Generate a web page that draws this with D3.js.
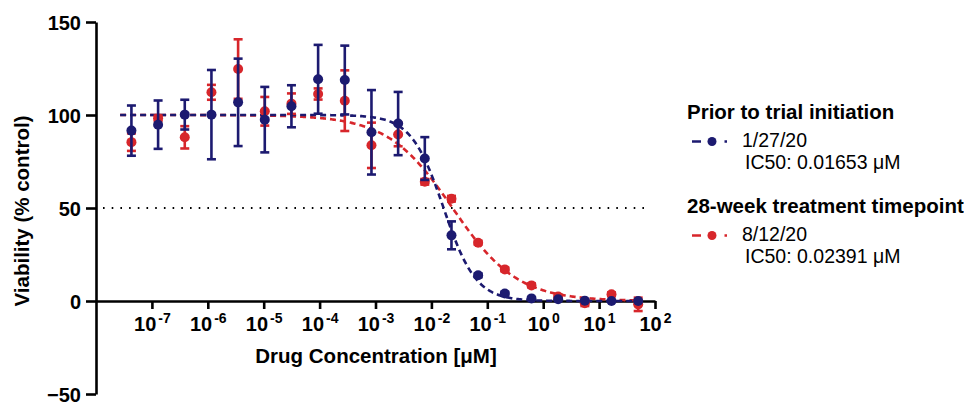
<!DOCTYPE html>
<html><head><meta charset="utf-8">
<script src="https://cdn.jsdelivr.net/npm/d3@7"></script>
<style>
body{margin:0;background:#fff;}
text{font-family:"Liberation Sans",Arial,sans-serif;}
</style></head>
<body><svg id="c" width="964" height="402"></svg>
<script>
// ---- data ----
const concentrations = d3.range(19, -1, -1).map(k => 50 / Math.pow(3, k)); // 3-fold dilution from 50 µM
const blueMean = [91.6, 94.8, 100.2, 100.2, 106.8, 97.5, 104.7, 119.2, 118.8, 90.7, 95.4, 76.6, 35.3, 13.8, 4.0, 1.4, 0.9, 0.2, 0.0, 0.0];
const blueErr  = [13.5, 13.0, 8.0, 24.0, 23.5, 17.6, 11.3, 18.5, 18.5, 22.7, 17.0, 11.5, 7.5, 1.0, 1.0, 0.5, 0.5, 0.5, 0.5, 0.5];
const redMean  = [85.4, 98.2, 88.0, 112.2, 124.7, 102.0, 106.1, 111.3, 107.7, 83.7, 89.5, 64.1, 55.0, 31.3, 17.0, 8.4, 2.4, -1.2, 3.6, -1.8];
const redErr   = [4.7, 1.5, 6.0, 4.0, 16.0, 7.7, 5.5, 3.0, 16.3, 12.2, 6.3, 1.5, 1.5, 1.0, 1.0, 1.0, 1.0, 1.5, 1.0, 3.6];
const ic50 = [0.01653, 0.02391];
const hill = [1.5, 0.75];
const seriesNames = ["Prior to trial initiation", "28-week treatment timepoint"];
const seriesDates = ["1/27/20", "8/12/20"];
const seriesIC50Labels = ["IC50: 0.01653 μM", "IC50: 0.02391 μM"];
const yTicks = [150, 100, 50, 0, -50];
const xTickExps = [-7, -6, -5, -4, -3, -2, -1, 0, 1, 2];

const colors = ["#1c1a70", "#d7262b"];

const svg = d3.select("#c");
const x = d3.scaleLog().domain([1e-8, 1e2]).range([96, 655]);
const y = d3.scaleLinear().domain([-50, 150]).range([394, 22]);

// y axis
const yAxis = svg.append("g").attr("transform", "translate(96,0)")
  .call(d3.axisLeft(y).tickValues(yTicks).tickSize(10).tickSizeOuter(0).tickPadding(5).tickFormat(d3.format("d")));
yAxis.select(".domain").attr("stroke", "#000").attr("stroke-width", 2.6);
yAxis.selectAll(".tick line").attr("stroke", "#000").attr("stroke-width", 2.6);
yAxis.selectAll(".tick text").attr("fill", "#000").attr("font-size", 20).attr("font-weight", "bold")
  .attr("font-family", '"Liberation Sans",Arial,sans-serif').attr("dy", "0.36em");

// x axis at y=0
const xAxis = svg.append("g").attr("transform", `translate(0,${y(0)})`)
  .call(d3.axisBottom(x).tickValues(xTickExps.map(e => Math.pow(10, e))).tickSize(8).tickSizeOuter(0).tickFormat(""));
xAxis.select(".domain").attr("stroke", "#000").attr("stroke-width", 2.6);
xAxis.selectAll(".tick line").attr("stroke", "#000").attr("stroke-width", 2.6);
xAxis.selectAll(".tick").each(function(d, i) {
  const t = d3.select(this).append("text").attr("fill", "#000").attr("font-weight", "bold")
    .attr("text-anchor", "middle").attr("y", 30);
  t.append("tspan").attr("font-size", 20).text("10");
  t.append("tspan").attr("font-size", 14).attr("dy", -8).attr("dx", 2).text(xTickExps[i] < 0 ? "-" + Math.abs(xTickExps[i]) : xTickExps[i]);
});

// axis titles
svg.append("text").attr("x", 376).attr("y", 363).attr("text-anchor", "middle")
  .attr("font-size", 20.5).attr("font-weight", "bold").text("Drug Concentration [μM]");
svg.append("text").attr("transform", `translate(29,211) rotate(-90)`).attr("text-anchor", "middle")
  .attr("font-size", 20.5).attr("font-weight", "bold").text("Viability (% control)");

// 50% dotted line
svg.append("line").attr("x1", 103).attr("x2", 650).attr("y1", y(50)).attr("y2", y(50))
  .attr("stroke", "#000").attr("stroke-width", 1.8).attr("stroke-dasharray", "1.6,7.1");

// curves
const curveX = d3.range(Math.log10(2.7e-8), Math.log10(60), 0.02).map(v => Math.pow(10, v));
const line = d3.line().x(d => x(d[0])).y(d => y(d[1]));
const series = [
  {mean: blueMean, err: blueErr, color: colors[0], ic: ic50[0], h: hill[0]},
  {mean: redMean, err: redErr, color: colors[1], ic: ic50[1], h: hill[1]}
];
const drawOrder = [1, 0];
drawOrder.forEach(si => {
  const s = series[si];
  const pts = curveX.map(c => [c, 100 / (1 + Math.pow(c / s.ic, s.h))]);
  svg.append("path").attr("d", line(pts)).attr("fill", "none").attr("stroke", s.color)
    .attr("stroke-width", 2.6).attr("stroke-dasharray", "6,4");
});
drawOrder.forEach(si => {
  const s = series[si];
  const g = svg.append("g");
  concentrations.forEach((c, i) => {
    const cx = x(c), top = y(s.mean[i] + s.err[i]), bot = y(s.mean[i] - s.err[i]);
    if (bot - top > 3) {
      g.append("line").attr("x1", cx).attr("x2", cx).attr("y1", top).attr("y2", bot).attr("stroke", s.color).attr("stroke-width", 2.6);
      [top, bot].forEach(yy => g.append("line").attr("x1", cx - 4.5).attr("x2", cx + 4.5).attr("y1", yy).attr("y2", yy)
        .attr("stroke", s.color).attr("stroke-width", 2.6));
    }
  });
  g.selectAll("circle").data(concentrations).join("circle")
    .attr("cx", d => x(d)).attr("cy", (d, i) => y(s.mean[i])).attr("r", 5).attr("fill", s.color);
});

// legend
const legY = [119, 213];
[0, 1].forEach(si => {
  const g = svg.append("g");
  g.append("text").attr("x", 687).attr("y", legY[si]).attr("font-size", 20.5).attr("font-weight", "bold").attr("fill", "#000").text(seriesNames[si]);
  const sy = legY[si] + 22.5;
  g.append("line").attr("x1", 692).attr("x2", 727).attr("y1", sy).attr("y2", sy).attr("stroke", colors[si])
    .attr("stroke-width", 2.6).attr("stroke-dasharray", "9,23.5,2.5,10");
  g.append("circle").attr("cx", 712).attr("cy", sy).attr("r", 4.5).attr("fill", colors[si]);
  g.append("text").attr("x", 742).attr("y", legY[si] + 28).attr("font-size", 19.5).attr("fill", "#000").text(seriesDates[si]);
  g.append("text").attr("x", 745).attr("y", legY[si] + 49.5).attr("font-size", 19.5).attr("fill", "#000").text(seriesIC50Labels[si]);
});
</script></body></html>
